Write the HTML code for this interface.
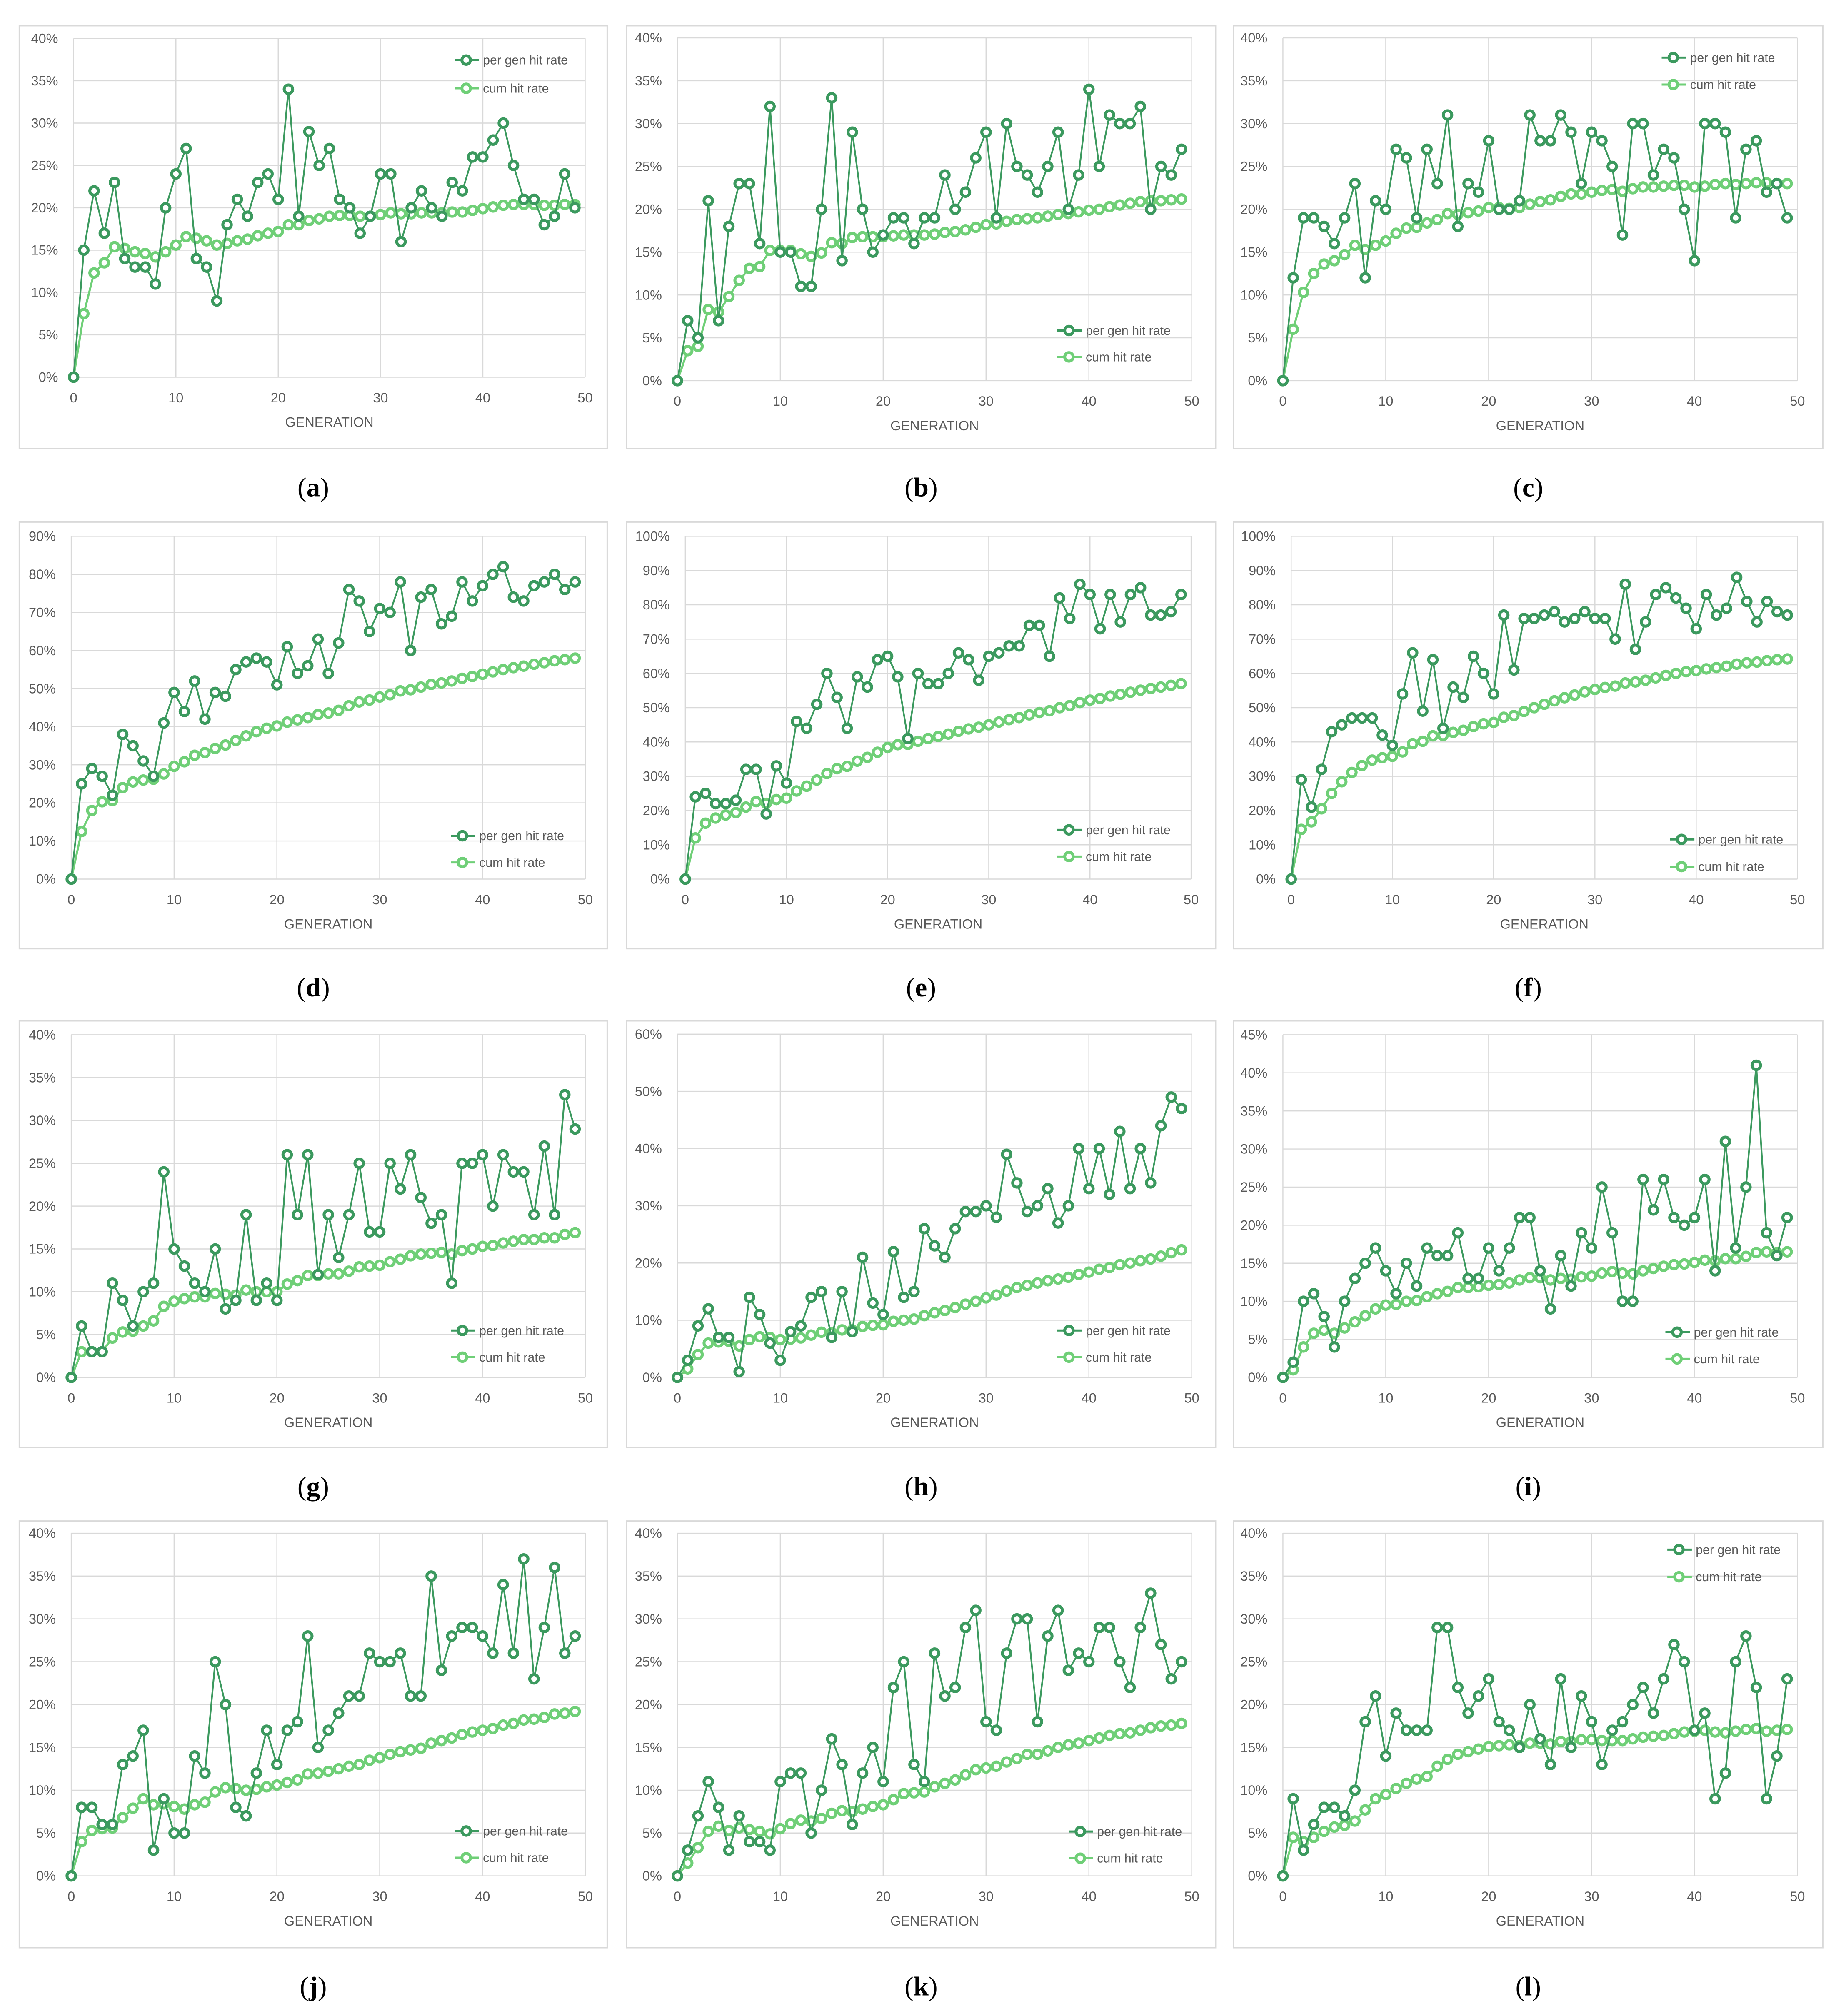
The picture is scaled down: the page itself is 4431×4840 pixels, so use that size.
<!DOCTYPE html>
<html><head><meta charset="utf-8"><title>Hit rate per generation</title>
<style>html,body{margin:0;padding:0;background:#fff}svg{display:block}</style></head>
<body>
<svg id="fig" width="4431" height="4840" viewBox="0 0 1432 1564" preserveAspectRatio="none" xmlns="http://www.w3.org/2000/svg" font-family="Liberation Sans, sans-serif"></svg>
<script>
const generations = Array.from({length:50},(_, i)=>i);
const xTicks = [0,10,20,30,40,50];
const panelLabels = ["a","b","c","d","e","f","g","h","i","j","k","l"];
const yMaxes = [40,40,40,90,100,100,40,60,45,40,40,40];
const ySteps = [5,5,5,10,10,10,5,10,5,5,5,5];
const perA=[0,15,22,17,23,14,13,13,11,20,24,27,14,13,9,18,21,19,23,24,21,34,19,29,25,27,21,20,17,19,24,24,16,20,22,20,19,23,22,26,26,28,30,25,21,21,18,19,24,20];
const cumA=[0,7.5,12.3,13.5,15.4,15.2,14.8,14.6,14.2,14.8,15.6,16.6,16.4,16.1,15.6,15.8,16.1,16.3,16.7,17.0,17.2,18.0,18.0,18.5,18.7,19.0,19.1,19.1,19.0,19.0,19.2,19.4,19.3,19.3,19.4,19.4,19.4,19.5,19.5,19.7,19.9,20.1,20.3,20.4,20.4,20.4,20.3,20.3,20.4,20.4];
const perB=[0,7,5,21,7,18,23,23,16,32,15,15,11,11,20,33,14,29,20,15,17,19,19,16,19,19,24,20,22,26,29,19,30,25,24,22,25,29,20,24,34,25,31,30,30,32,20,25,24,27];
const cumB=[0,3.5,4.0,8.3,8.0,9.8,11.7,13.1,13.3,15.2,15.2,15.2,14.8,14.5,14.9,16.1,16.0,16.7,16.8,16.8,16.8,16.9,17.0,17.0,17.0,17.1,17.3,17.4,17.6,17.9,18.2,18.3,18.6,18.8,18.9,19.0,19.2,19.4,19.5,19.7,19.9,20.0,20.3,20.5,20.7,20.9,21.0,21.0,21.1,21.2];
const perC=[0,12,19,19,18,16,19,23,12,21,20,27,26,19,27,23,31,18,23,22,28,20,20,21,31,28,28,31,29,23,29,28,25,17,30,30,24,27,26,20,14,30,30,29,19,27,28,22,23,19];
const cumC=[0,6,10.3,12.5,13.6,14.0,14.7,15.8,15.3,15.8,16.3,17.2,17.8,17.9,18.4,18.8,19.5,19.4,19.6,19.8,20.2,20.2,20.1,20.2,20.6,20.9,21.1,21.5,21.8,21.8,22.0,22.2,22.3,22.1,22.4,22.6,22.6,22.7,22.8,22.8,22.6,22.7,22.9,23.0,22.9,23.0,23.1,23.1,23.0,23.0];
const perD=[0,25,29,27,22,38,35,31,27,41,49,44,52,42,49,48,55,57,58,57,51,61,54,56,63,54,62,76,73,65,71,70,78,60,74,76,67,69,78,73,77,80,82,74,73,77,78,80,76,78];
const cumD=[0,12.5,18,20.3,20.6,24,25.5,26,26.2,27.6,29.6,30.8,32.5,33.2,34.3,35.2,36.4,37.6,38.7,39.6,40.2,41.2,41.8,42.4,43.2,43.6,44.3,45.5,46.5,47.0,47.8,48.4,49.4,49.7,50.4,51.1,51.5,52.0,52.7,53.2,53.8,54.4,55.0,55.5,55.9,56.4,56.8,57.3,57.6,58.0];
const perE=[0,24,25,22,22,23,32,32,19,33,28,46,44,51,60,53,44,59,56,64,65,59,41,60,57,57,60,66,64,58,65,66,68,68,74,74,65,82,76,86,83,73,83,75,83,85,77,77,78,83];
const cumE=[0,12,16.3,17.8,18.7,19.4,21,22.6,22.1,23.2,23.6,25.7,27.1,28.9,30.8,32.2,32.9,34.4,35.5,37.0,38.4,39.2,39.3,40.2,41.0,41.6,42.3,43.1,43.8,44.3,45.0,45.8,46.5,47.1,47.9,48.6,49.1,50.0,50.6,51.5,52.2,52.7,53.4,53.9,54.5,55.1,55.6,56.0,56.5,57.0];
const perF=[0,29,21,32,43,45,47,47,47,42,39,54,66,49,64,44,56,53,65,60,54,77,61,76,76,77,78,75,76,78,76,76,70,86,67,75,83,85,82,79,73,83,77,79,88,81,75,81,78,77];
const cumF=[0,14.5,16.7,20.5,25,28.4,31.1,33.1,34.7,35.4,35.8,37.1,39.5,40.2,41.8,41.9,42.8,43.4,44.5,45.3,45.7,47.2,47.7,48.9,50.0,51.0,52.0,52.9,53.7,54.6,55.3,55.9,56.3,57.2,57.5,58.0,58.7,59.4,60.0,60.5,60.8,61.3,61.7,62.1,62.7,63.1,63.3,63.7,64.0,64.2];
const perG=[0,6,3,3,11,9,6,10,11,24,15,13,11,10,15,8,9,19,9,11,9,26,19,26,12,19,14,19,25,17,17,25,22,26,21,18,19,11,25,25,26,20,26,24,24,19,27,19,33,29];
const cumG=[0,3,3,3,4.6,5.3,5.4,6.0,6.6,8.3,8.9,9.2,9.4,9.4,9.8,9.7,9.6,10.2,10.0,10.0,10.0,10.9,11.3,11.9,11.9,12.1,12.1,12.4,12.9,13.0,13.1,13.5,13.8,14.2,14.4,14.5,14.6,14.4,14.8,15.0,15.3,15.4,15.7,15.9,16.1,16.1,16.3,16.3,16.7,16.9];
const perH=[0,3,9,12,7,7,1,14,11,6,3,8,9,14,15,7,15,8,21,13,11,22,14,15,26,23,21,26,29,29,30,28,39,34,29,30,33,27,30,40,33,40,32,43,33,40,34,44,49,47];
const cumH=[0,1.5,4,6,6.2,6.3,5.5,6.6,7.1,7.0,6.6,6.7,6.9,7.4,7.9,7.8,8.3,8.3,8.9,9.1,9.2,9.8,10.0,10.2,10.8,11.3,11.7,12.2,12.8,13.3,13.9,14.4,15.1,15.7,16.1,16.5,16.9,17.2,17.5,18.0,18.4,18.9,19.2,19.7,20.0,20.4,20.7,21.2,21.8,22.3];
const perI=[0,2,10,11,8,4,10,13,15,17,14,11,15,12,17,16,16,19,13,13,17,14,17,21,21,14,9,16,12,19,17,25,19,10,10,26,22,26,21,20,21,26,14,31,17,25,41,19,16,21];
const cumI=[0,1,4,5.8,6.2,5.8,6.5,7.3,8.1,9.0,9.5,9.6,10.0,10.1,10.6,11.0,11.3,11.8,11.8,11.9,12.1,12.2,12.4,12.8,13.1,13.1,12.8,13.0,12.9,13.2,13.3,13.7,13.9,13.7,13.6,14.0,14.3,14.6,14.8,14.9,15.1,15.4,15.3,15.6,15.6,15.9,16.4,16.5,16.4,16.5];
const perJ=[0,8,8,6,6,13,14,17,3,9,5,5,14,12,25,20,8,7,12,17,13,17,18,28,15,17,19,21,21,26,25,25,26,21,21,35,24,28,29,29,28,26,34,26,37,23,29,36,26,28];
const cumJ=[0,4,5.3,5.5,5.6,6.8,7.9,9.0,8.3,8.4,8.1,7.8,8.3,8.6,9.8,10.3,10.2,10.0,10.1,10.4,10.6,10.9,11.2,11.9,12.0,12.2,12.5,12.8,13.0,13.5,13.8,14.2,14.5,14.7,14.9,15.5,15.8,16.1,16.5,16.8,17.0,17.2,17.6,17.8,18.2,18.3,18.5,18.9,19.0,19.2];
const perK=[0,3,7,11,8,3,7,4,4,3,11,12,12,5,10,16,13,6,12,15,11,22,25,13,11,26,21,22,29,31,18,17,26,30,30,18,28,31,24,26,25,29,29,25,22,29,33,27,23,25];
const cumK=[0,1.5,3.3,5.2,5.8,5.3,5.6,5.4,5.2,4.9,5.5,6.1,6.5,6.4,6.7,7.3,7.6,7.5,7.8,8.1,8.3,8.9,9.6,9.7,9.8,10.4,10.8,11.2,11.8,12.4,12.6,12.8,13.3,13.7,14.2,14.2,14.6,15.0,15.3,15.5,15.8,16.1,16.4,16.6,16.7,17.0,17.3,17.5,17.6,17.8];
const perL=[0,9,3,6,8,8,7,10,18,21,14,19,17,17,17,29,29,22,19,21,23,18,17,15,20,16,13,23,15,21,18,13,17,18,20,22,19,23,27,25,17,19,9,12,25,28,22,9,14,23];
const cumL=[0,4.5,4,4.5,5.2,5.7,5.9,6.4,7.7,9.0,9.5,10.2,10.8,11.3,11.6,12.8,13.6,14.2,14.5,14.8,15.1,15.2,15.3,15.2,15.5,15.5,15.4,15.7,15.7,15.9,15.9,15.8,15.8,15.8,16.0,16.2,16.3,16.4,16.6,16.8,16.9,17.0,16.8,16.7,16.9,17.1,17.2,16.9,17.0,17.1];

const perSeries=[perA,perB,perC,perD,perE,perF,perG,perH,perI,perJ,perK,perL];
const cumSeries=[cumA,cumB,cumC,cumD,cumE,cumF,cumG,cumH,cumI,cumJ,cumK,cumL];

// layout (pixel geometry, not data)
const boxCols=[[15,471],[486,943],[957,1414]];
const boxRows=[[20,348],[405,736],[792,1123],[1180,1511]];
const plotGeo=[
 [57.1,453.9,29.8,292.6],[525.5,924.5,29.4,295.3],[995.2,1394.3,29.4,295.3],
 [55.3,454.1,416,682],[531.6,924,416,682],[1001.6,1394.3,416,682],
 [55.3,454.1,802.8,1068.6],[525.5,924.5,802.3,1068.6],[995.2,1394.3,802.8,1068.6],
 [55.3,454.1,1189.5,1455.3],[525.5,924.5,1189.5,1455.3],[995.2,1394.3,1189.5,1455.3]];
const legGeo=[[361.6,46.6,68.5],[829.2,256.4,276.9],[1298,44.7,65.6],
 [358.7,648.4,669.1],[829.2,643.8,664.5],[1304.4,651.2,672.3],
 [358.7,1032.2,1052.9],[829.2,1032.2,1052.9],[1300.9,1033.5,1054.2],
 [361.6,1420.5,1441.2],[838,1420.9,1441.6],[1302.4,1202.2,1223.3]];
const DARK="#3b995e", LIGHT="#6fcf77";
const NS="http://www.w3.org/2000/svg";
const svg=document.getElementById('fig');
function mk(tag,attrs,parent){const e=document.createElementNS(NS,tag);for(const k in attrs)e.setAttribute(k,attrs[k]);(parent||svg).appendChild(e);return e;}

panelLabels.forEach((lab,p)=>{
  const col=p%3,row=Math.floor(p/3);
  const [bx0,bx1]=boxCols[col],[by0,by1]=boxRows[row];
  const g=mk('g',{});
  
  
  const box=mk('rect',{x:bx0,y:by0,width:bx1-bx0,height:by1-by0,fill:'#fff',stroke:'#d9d9d9','stroke-width':1},g);
  
  
  const [L,R,T,B]=plotGeo[p];
  const ymax=yMaxes[p],step=ySteps[p];
  const xs=v=>L+(R-L)*v/50;
  const ys=v=>B-(B-T)*v/ymax;
  const grid=mk('g',{stroke:'#d9d9d9','stroke-width':0.8},g);
  
  
  for(let v=0;v<=ymax+1e-9;v+=step){
    mk('line',{x1:L,x2:R,y1:ys(v),y2:ys(v)},grid);
    const t=mk('text',{x:L-12,y:ys(v)+3.6,'text-anchor':'end','font-size':10.5,fill:'#595959'},g);
    t.textContent=v+'%';
    
    
  }
  xTicks.forEach(v=>{
    mk('line',{x1:xs(v),x2:xs(v),y1:T,y2:B},grid);
    const t=mk('text',{x:xs(v),y:B+19.5,'text-anchor':'middle','font-size':10.5,fill:'#595959'},g);
    t.textContent=v;
    
    
  });
  const xt=mk('text',{x:(L+R)/2,y:B+38.5,'text-anchor':'middle','font-size':10.5,fill:'#595959'},g);
  xt.textContent='GENERATION';
  
  
  [[cumSeries[p],LIGHT,1.6,'cum-hit-rate-series'],[perSeries[p],DARK,1.3,'per-gen-hit-rate-series']].forEach(([data,color,lw,nm])=>{
    const sg=mk('g',{},g);
    
    
    const pts=data.map((v,i)=>xs(generations[i]).toFixed(2)+','+ys(v).toFixed(2)).join(' ');
    const pl=mk('polyline',{points:pts,fill:'none',stroke:color,'stroke-width':lw},sg);
    
    
    data.forEach((v,i)=>{
      const c=mk('circle',{cx:xs(generations[i]),cy:ys(v),r:3.3,fill:'#fff',stroke:color,'stroke-width':2.3},sg);
      
      
    });
  });
  const [lx,ly1,ly2]=legGeo[p];
  [[ly1,DARK,'per gen hit rate'],[ly2,LIGHT,'cum hit rate']].forEach(([ly,color,txt])=>{
    const lg=mk('g',{},g);
    
    
    mk('line',{x1:lx-9,x2:lx+10,y1:ly,y2:ly,stroke:color,'stroke-width':1.6},lg);
    mk('circle',{cx:lx,cy:ly,r:3.3,fill:'#fff',stroke:color,'stroke-width':2.3},lg);
    const t=mk('text',{x:lx+13,y:ly+3.4,'font-size':9.8,fill:'#595959'},lg);
    t.textContent=txt;
  });
  const cap=mk('text',{x:(bx0+bx1)/2,y:by1+37,'text-anchor':'middle','font-size':21,fill:'#000','font-family':'Liberation Serif, serif'});
  
  
  const a=mk('tspan',{},cap);a.textContent='(';
  const b=mk('tspan',{'font-weight':'bold'},cap);b.textContent=lab;
  const c2=mk('tspan',{},cap);c2.textContent=')';
});
</script>
</body></html>
